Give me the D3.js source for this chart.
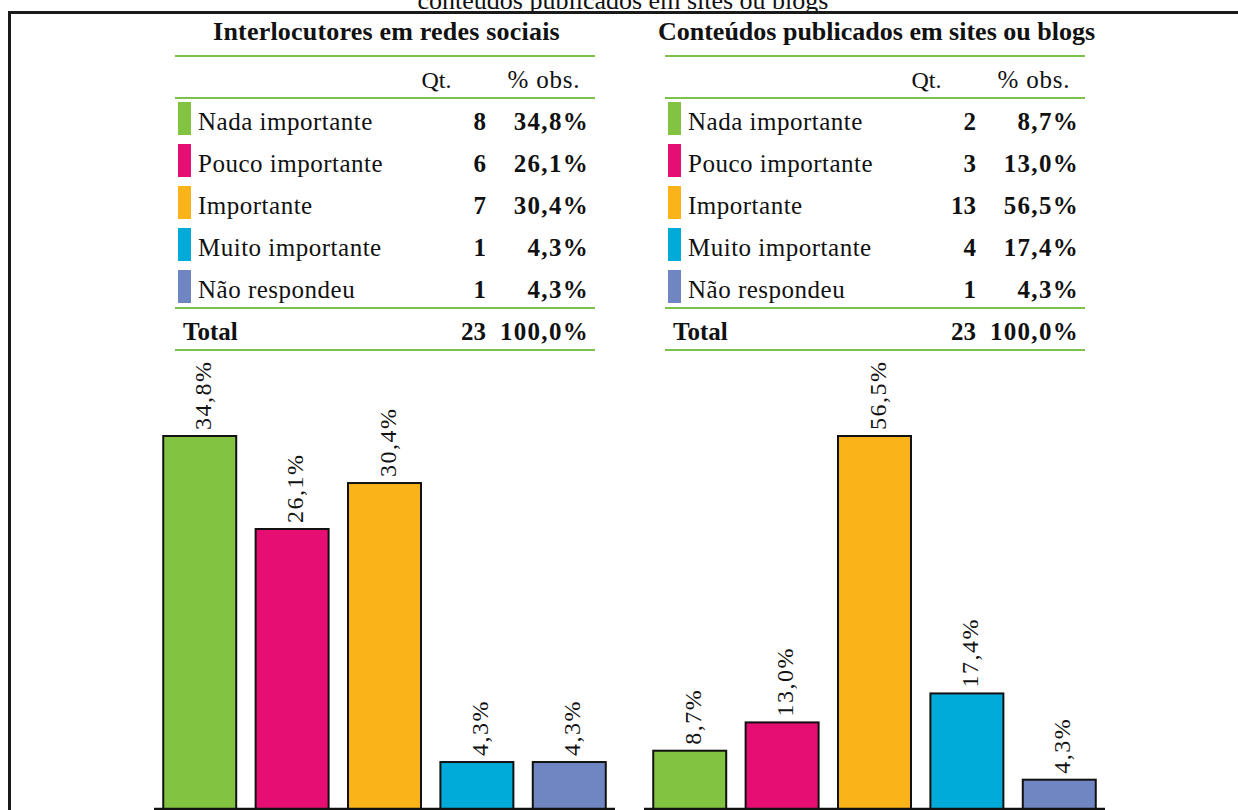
<!DOCTYPE html>
<html>
<head>
<meta charset="utf-8">
<script src="https://cdn.jsdelivr.net/npm/d3@7"></script>
<style>
  html, body { margin: 0; padding: 0; background: #fff; }
  svg { display: block; }
  text { font-family: "Liberation Serif", "Times New Roman", serif; fill: #111; }
</style>
</head>
<body>
<svg id="chart" width="1238" height="810"></svg>
<script>
// ---- Data ----
const categories = ["Nada importante", "Pouco importante", "Importante", "Muito importante", "Não respondeu"];
const colors = ["#82C341", "#E60E72", "#FBB31A", "#00ABD9", "#6F86C2"];
const panelTitles = ["Interlocutores em redes sociais", "Conteúdos publicados em sites ou blogs"];
const titleSpacing = ["0.2px", "0px"];
const countsRedes = [8, 6, 7, 1, 1];
const pctRedes = [34.8, 26.1, 30.4, 4.3, 4.3];
const countsSites = [2, 3, 13, 4, 1];
const pctSites = [8.7, 13.0, 56.5, 17.4, 4.3];
const totals = [23, 23];
const totalPct = [100.0, 100.0];
const headerLabels = ["Qt.", "% obs."];
const topCaption = "conteúdos publicados em sites ou blogs";

const fmt = v => v.toFixed(1).replace(".", ",") + "%";

const svg = d3.select("#chart");

// Clipped caption at top (cut by the page edge, as in the reference)
svg.append("text")
  .attr("x", 623).attr("y", 9)
  .attr("text-anchor", "middle")
  .style("font-size", "26px")
  .text(topCaption);

// Frame (top and left lines)
svg.append("line").attr("x1", 8).attr("x2", 1238).attr("y1", 12.5).attr("y2", 12.5)
  .attr("stroke", "#1a1a1a").attr("stroke-width", 3);
svg.append("line").attr("x1", 9.5).attr("x2", 9.5).attr("y1", 11).attr("y2", 810)
  .attr("stroke", "#1a1a1a").attr("stroke-width", 3);

const panels = [
  { counts: countsRedes, pcts: pctRedes, off: 0 },
  { counts: countsSites, pcts: pctSites, off: 490 }
];

const green = "#7CC24A";

panels.forEach((p, pi) => {
  const g = svg.append("g").attr("transform", `translate(${p.off},0)`);

  // Title
  g.append("text")
    .attr("x", 386.5).attr("y", 40)
    .attr("text-anchor", "middle")
    .style("font-size", "26px").style("font-weight", "bold")
    .style("letter-spacing", titleSpacing[pi])
    .text(panelTitles[pi]);

  // Table lines
  [56, 98, 308, 350].forEach(y => {
    g.append("line").attr("x1", 175).attr("x2", 595).attr("y1", y).attr("y2", y)
      .attr("stroke", green).attr("stroke-width", 2);
  });

  // Header
  g.append("text").attr("x", 436.5).attr("y", 88).attr("text-anchor", "middle")
    .style("font-size", "24px").text(headerLabels[0]);
  g.append("text").attr("x", 544).attr("y", 88).attr("text-anchor", "middle")
    .style("font-size", "25px").style("letter-spacing", "0.8px").text(headerLabels[1]);

  // Rows
  const rowY = d3.scalePoint().domain(categories).range([129.5, 297.5]);
  categories.forEach((c, i) => {
    const by = rowY(c);
    g.append("rect").attr("x", 178).attr("y", by - 27.5).attr("width", 13).attr("height", 33)
      .attr("fill", colors[i]);
    g.append("text").attr("x", 198).attr("y", by).style("font-size", "25px")
      .style("letter-spacing", "0.5px").text(c);
    g.append("text").attr("x", 486).attr("y", by).attr("text-anchor", "end")
      .style("font-size", "25px").style("font-weight", "bold").text(p.counts[i]);
    g.append("text").attr("x", 589).attr("y", by).attr("text-anchor", "end")
      .style("font-size", "25px").style("font-weight", "bold")
      .style("letter-spacing", "1.3px").text(fmt(p.pcts[i]));
  });

  // Total row
  g.append("text").attr("x", 183).attr("y", 340)
    .style("font-size", "25px").style("font-weight", "bold").text("Total");
  g.append("text").attr("x", 486).attr("y", 340).attr("text-anchor", "end")
    .style("font-size", "25px").style("font-weight", "bold").text(totals[pi]);
  g.append("text").attr("x", 589).attr("y", 340).attr("text-anchor", "end")
    .style("font-size", "25px").style("font-weight", "bold")
    .style("letter-spacing", "1.3px").text(fmt(totalPct[pi]));

  // Bar chart
  const x = d3.scaleBand().domain(categories).range([154, 615]).paddingInner(0.21).paddingOuter(0.1);
  const y = d3.scaleLinear().domain([0, d3.max(p.pcts)]).range([808, 436]);

  categories.forEach((c, i) => {
    g.append("rect")
      .attr("x", x(c)).attr("y", y(p.pcts[i]))
      .attr("width", x.bandwidth()).attr("height", y(0) - y(p.pcts[i]) + 2)
      .attr("fill", colors[i]).attr("stroke", "#111").attr("stroke-width", 2);
    const cx = x(c) + x.bandwidth() / 2;
    const ty = y(p.pcts[i]) - 6;
    g.append("text")
      .attr("transform", `translate(${cx + 11},${ty}) rotate(-90)`)
      .attr("text-anchor", "start")
      .style("font-size", "24px")
      .style("letter-spacing", "1.5px")
      .text(fmt(p.pcts[i]));
  });

  // Axis baseline
  g.append("line").attr("x1", 154).attr("x2", 615).attr("y1", 809).attr("y2", 809)
    .attr("stroke", "#111").attr("stroke-width", 2.5);
});
</script>
</body>
</html>
